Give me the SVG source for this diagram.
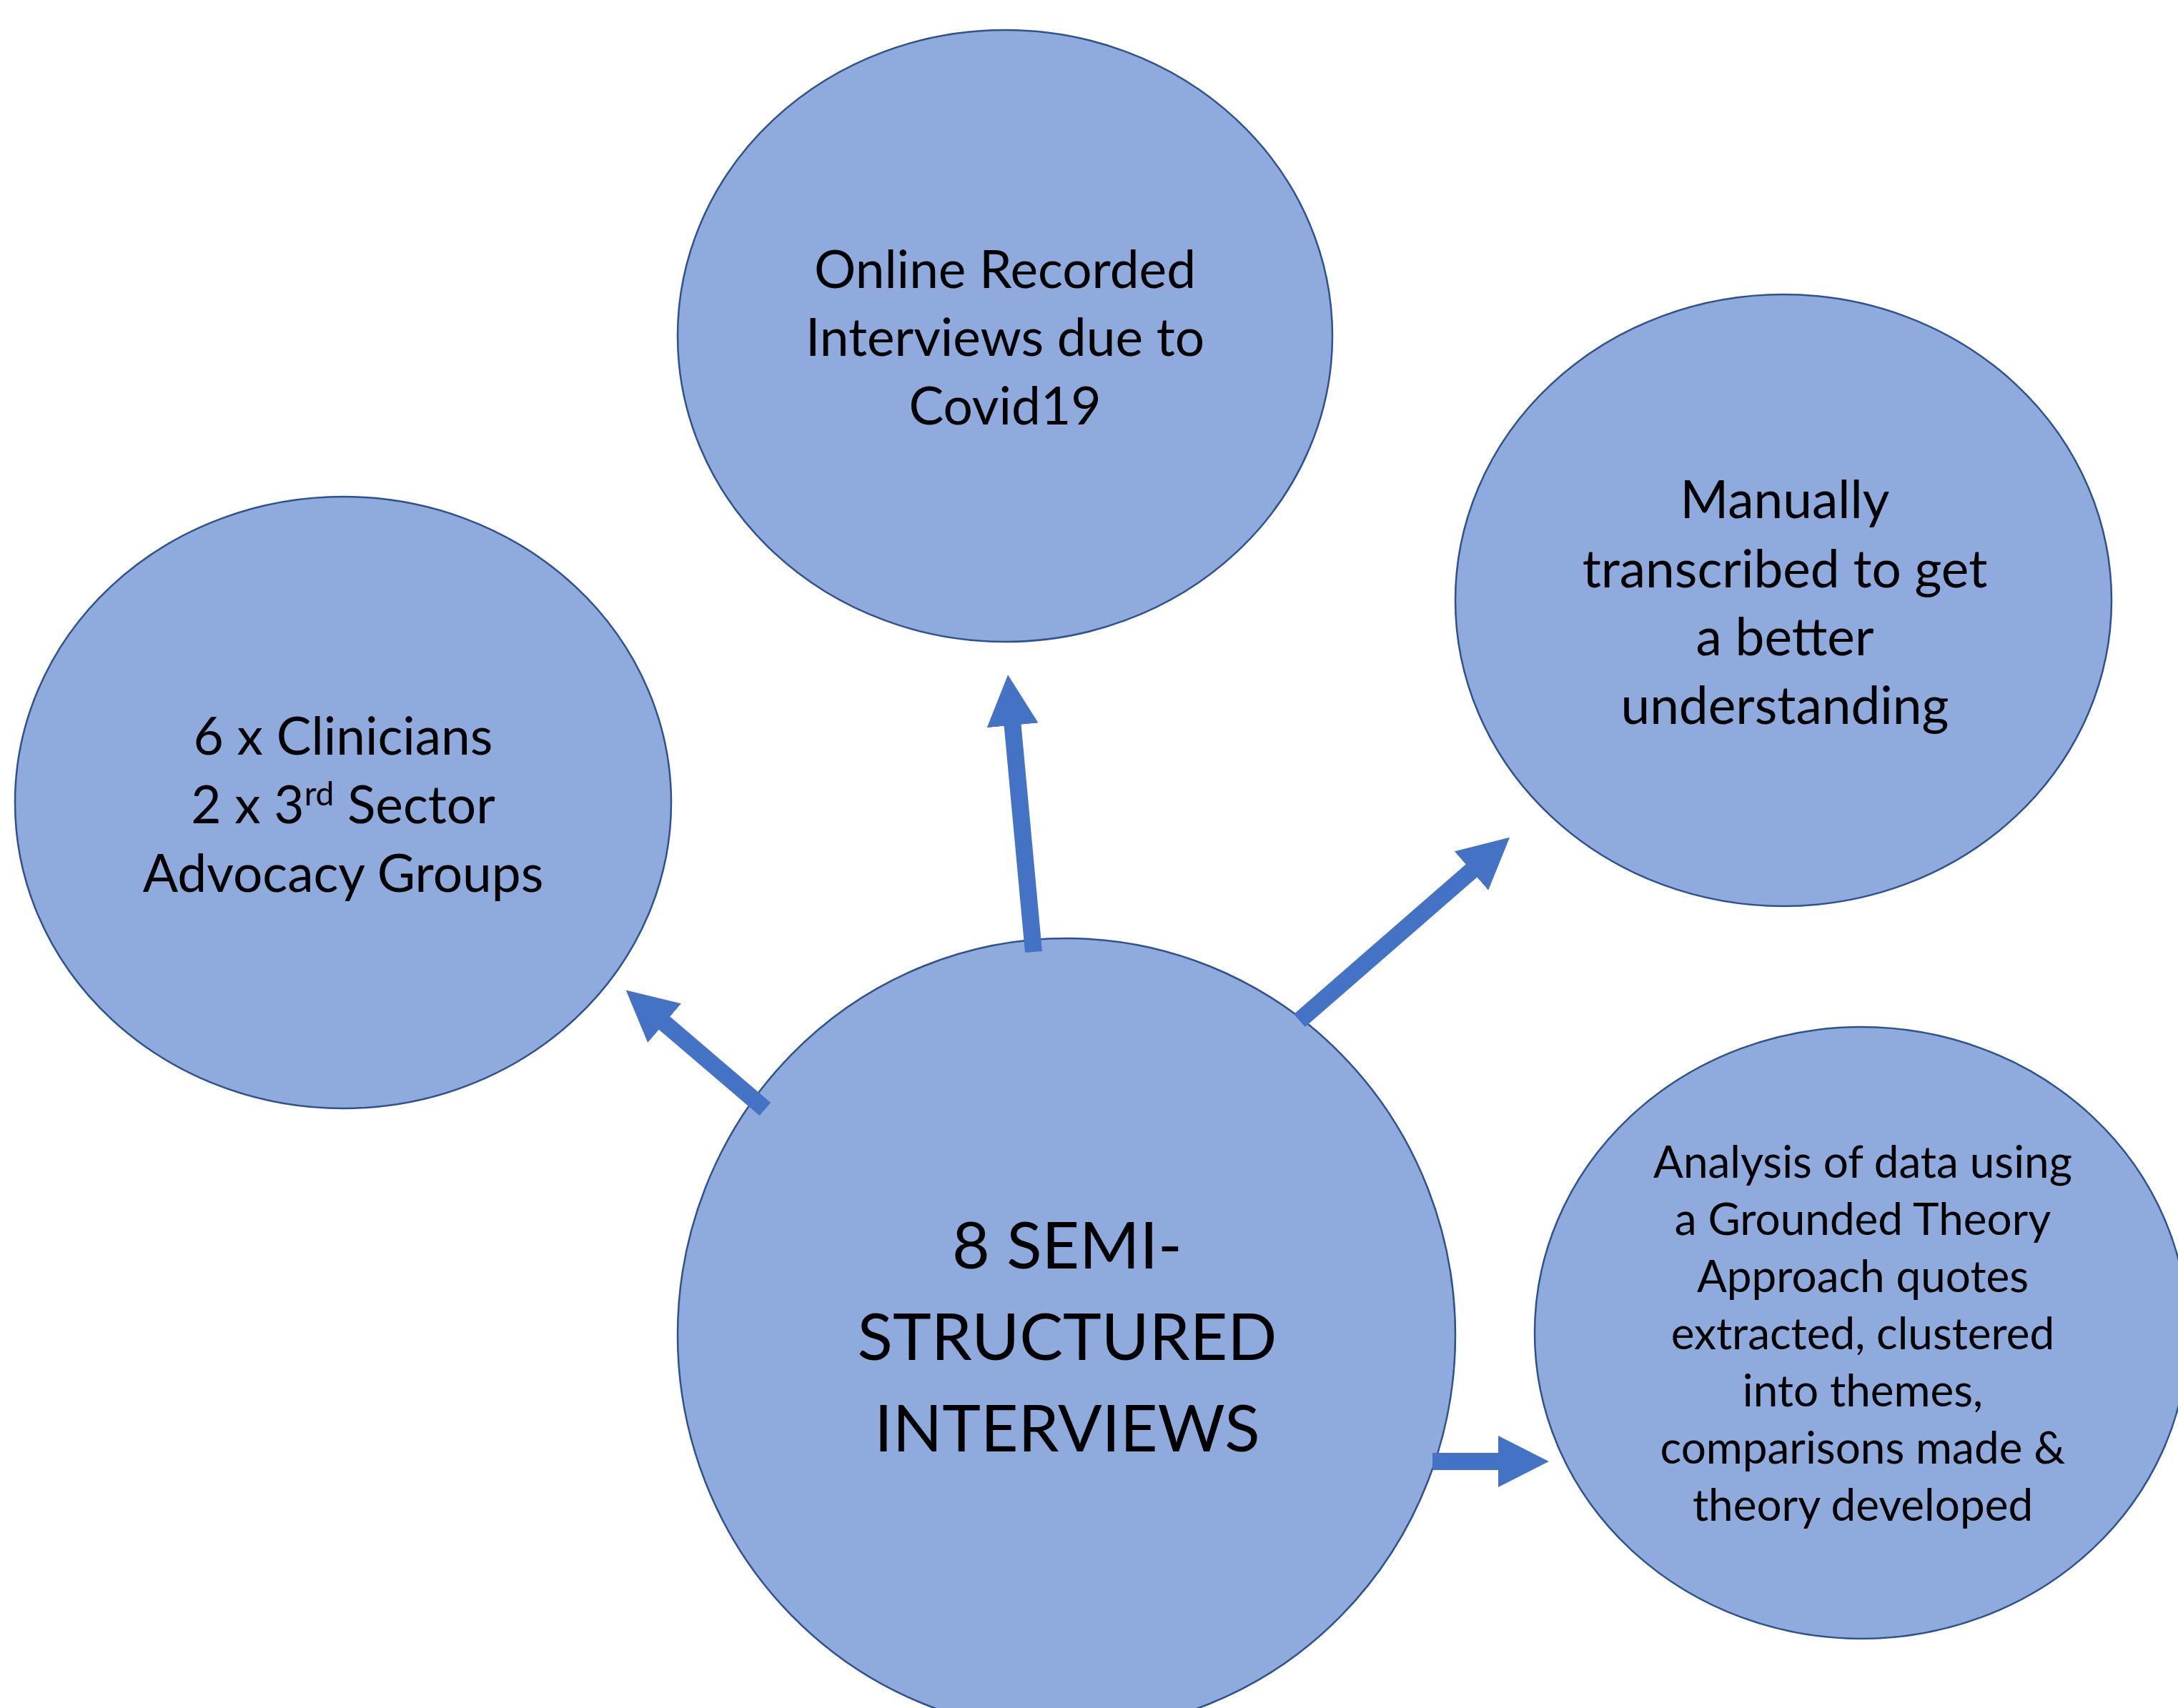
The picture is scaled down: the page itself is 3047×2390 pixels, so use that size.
<svg xmlns="http://www.w3.org/2000/svg" width="3047" height="2390" viewBox="0 0 3047 2390">
<style>
.node{fill:#8FAADC;stroke:#2F528F;stroke-width:2.5}
.t{font-family:Lato,"Open Sans","Liberation Sans",sans-serif;fill:#000;text-anchor:middle}
.m{font-size:73px}
.b{font-size:91px}
.s{font-size:62px}
.conn{stroke:#4472C4;stroke-width:24;fill:none}
</style>
<defs>
<marker id="ah" viewBox="0 0 3 3" markerWidth="3" markerHeight="3" refX="0.05" refY="1.5" orient="auto" markerUnits="strokeWidth">
<path d="M0,0 L2.96,1.5 L0,3 z" fill="#4472C4"/>
</marker>
</defs>
<rect width="3047" height="2390" fill="#fff"/>
<g id="n-online">
<ellipse class="node" cx="1406" cy="470" rx="458" ry="428"/>
<text class="t m"><tspan x="1406" y="403">Online Recorded</tspan><tspan x="1406" y="498">Interviews due to</tspan><tspan x="1406" y="594">Covid19</tspan></text>
</g>
<g id="n-participants">
<ellipse class="node" cx="480" cy="1123" rx="459" ry="428"/>
<text class="t m"><tspan x="480" y="1056">6 x Clinicians</tspan></text>
<text class="t m" x="480" y="1152">2 x 3<tspan font-size="46" dy="-25">rd</tspan><tspan dy="25"> Sector</tspan></text>
<text class="t m"><tspan x="480" y="1248">Advocacy Groups</tspan></text>
</g>
<g id="n-transcribed">
<ellipse class="node" cx="2495" cy="840" rx="459" ry="428"/>
<text class="t m"><tspan x="2497" y="725">Manually</tspan><tspan x="2497" y="822">transcribed to get</tspan><tspan x="2497" y="917">a better</tspan><tspan x="2497" y="1013">understanding</tspan></text>
</g>
<g id="n-analysis">
<ellipse class="node" cx="2604" cy="1865" rx="457" ry="428"/>
<text class="t s"><tspan x="2606" y="1648">Analysis of data using</tspan><tspan x="2606" y="1728">a Grounded Theory</tspan><tspan x="2606" y="1808">Approach quotes</tspan><tspan x="2606" y="1888">extracted, clustered</tspan><tspan x="2606" y="1968">into themes,</tspan><tspan x="2606" y="2048">comparisons made &amp;</tspan><tspan x="2606" y="2128">theory developed</tspan></text>
</g>
<g id="n-center">
<ellipse class="node" cx="1492" cy="1868" rx="544" ry="555"/>
<text class="t b"><tspan x="1493" y="1775">8 SEMI-</tspan><tspan x="1493" y="1903">STRUCTURED</tspan><tspan x="1493" y="2031">INTERVIEWS</tspan></text>
</g>
<g id="connectors">
<line class="conn" x1="1446" y1="1332" x2="1416.5" y2="1013.7" marker-end="url(#ah)"/>
<line class="conn" x1="1818" y1="1428" x2="2059.4" y2="1217.7" marker-end="url(#ah)"/>
<line class="conn" x1="2004" y1="2045" x2="2097" y2="2045" marker-end="url(#ah)"/>
<line class="conn" x1="1070.3" y1="1552" x2="928.7" y2="1430.8" marker-end="url(#ah)"/>
</g>
</svg>
